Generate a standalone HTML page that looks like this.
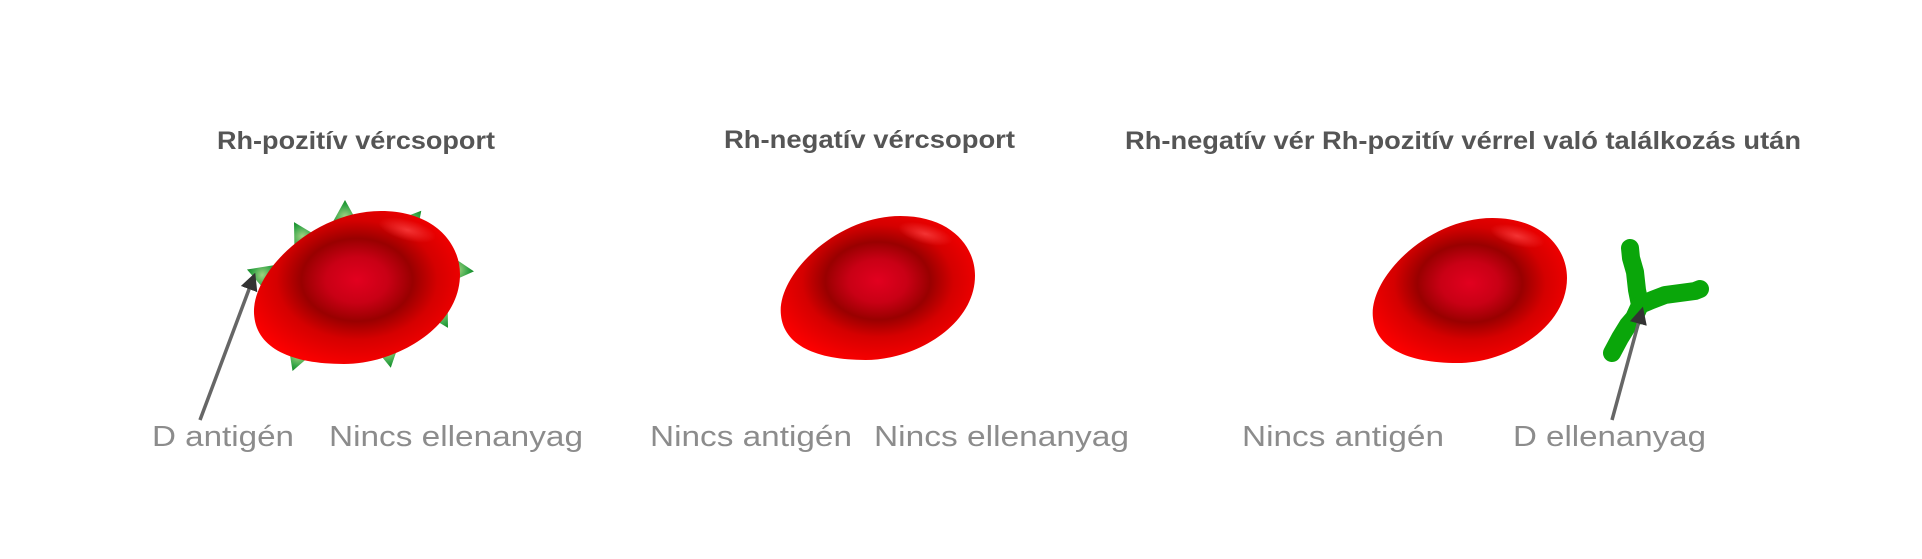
<!DOCTYPE html>
<html><head><meta charset="utf-8"><style>
html,body{margin:0;padding:0;background:#fff;}
svg{display:block;}
.t{font-family:"Liberation Sans",sans-serif;font-weight:bold;font-size:25px;fill:#555;}
.l{font-family:"Liberation Sans",sans-serif;font-size:29px;fill:#8c8c8c;}
</style></head><body>
<svg width="1922" height="559" viewBox="0 0 1922 559" xmlns="http://www.w3.org/2000/svg">
<defs>
<radialGradient id="rbc" cx="0.5" cy="0.45" r="0.6">
<stop offset="0" stop-color="#e2001f"/>
<stop offset="0.25" stop-color="#c90015"/>
<stop offset="0.45" stop-color="#990000"/>
<stop offset="0.65" stop-color="#d50000"/>
<stop offset="1" stop-color="#ff0000"/>
</radialGradient>
<radialGradient id="hl" cx="0.5" cy="0.5" r="0.5">
<stop offset="0" stop-color="#ff4a4a" stop-opacity="0.7"/>
<stop offset="1" stop-color="#ff4a4a" stop-opacity="0"/>
</radialGradient>
<radialGradient id="ag" cx="0.5" cy="0.6" r="0.6">
<stop offset="0" stop-color="#a0d080"/>
<stop offset="0.6" stop-color="#3aa84a"/>
<stop offset="1" stop-color="#0e8a24"/>
</radialGradient>
<g id="cell">
<path d="M5,100 C0,60 60,0 125,0 C175,0 200,30 200,60 C200,110 140,145 90,145 C40,145 8,130 5,100 Z" fill="url(#rbc)"/>
<ellipse cx="150" cy="18" rx="28" ry="10" fill="url(#hl)" transform="rotate(15 150 18)"/>
</g>
<polygon id="tri" points="0,-16 15,11 -15,11" fill="url(#ag)"/>
<marker id="ah" markerWidth="5" markerHeight="5" refX="4" refY="2.5" orient="auto" markerUnits="strokeWidth">
<path d="M0,0 L5,2.5 L0,5 Z" fill="#333"/>
</marker>
</defs>

<text class="t" x="217" y="149" textLength="278" lengthAdjust="spacingAndGlyphs">Rh-pozitív vércsoport</text>
<text class="t" x="724" y="148" textLength="291" lengthAdjust="spacingAndGlyphs">Rh-negatív vércsoport</text>
<text class="t" x="1125" y="149" textLength="676" lengthAdjust="spacingAndGlyphs">Rh-negatív vér Rh-pozitív vérrel való találkozás után</text>

<use href="#tri" transform="translate(345,216) rotate(0)"/>
<use href="#tri" transform="translate(411,223) rotate(40)"/>
<use href="#tri" transform="translate(302,236) rotate(-30)"/>
<use href="#tri" transform="translate(262,275) rotate(-70)"/>
<use href="#tri" transform="translate(458,270) rotate(95)"/>
<use href="#tri" transform="translate(440,314) rotate(150)"/>
<use href="#tri" transform="translate(388,352) rotate(170)"/>
<use href="#tri" transform="translate(298,356) rotate(200)"/>

<g transform="translate(249,211) scale(1.055,1.055)"><use href="#cell"/></g>
<g transform="translate(776,216) scale(0.995,0.993)"><use href="#cell"/></g>
<g transform="translate(1368,218) scale(0.995,1.0)"><use href="#cell"/></g>

<g fill="none" stroke="#0aa60a" stroke-width="18" stroke-linecap="round" stroke-linejoin="round">
<path d="M1612,353 L1620,338 L1628,325 L1634,318 L1640,305 L1637,290 L1635,272 L1631,258 L1630,248"/>
<path d="M1640,305 L1652,300 L1665,295 L1680,293 L1695,291 L1700,289"/>
</g>

<line x1="200" y1="420" x2="254" y2="276" stroke="#666" stroke-width="3.5" marker-end="url(#ah)"/>
<line x1="1612" y1="420" x2="1642" y2="310" stroke="#666" stroke-width="3.5" marker-end="url(#ah)"/>

<text class="l" x="152" y="446" textLength="142" lengthAdjust="spacingAndGlyphs">D antigén</text>
<text class="l" x="329" y="446" textLength="254" lengthAdjust="spacingAndGlyphs">Nincs ellenanyag</text>
<text class="l" x="650" y="446" textLength="202" lengthAdjust="spacingAndGlyphs">Nincs antigén</text>
<text class="l" x="874" y="446" textLength="255" lengthAdjust="spacingAndGlyphs">Nincs ellenanyag</text>
<text class="l" x="1242" y="446" textLength="202" lengthAdjust="spacingAndGlyphs">Nincs antigén</text>
<text class="l" x="1513" y="446" textLength="193" lengthAdjust="spacingAndGlyphs">D ellenanyag</text>
</svg>
</body></html>
